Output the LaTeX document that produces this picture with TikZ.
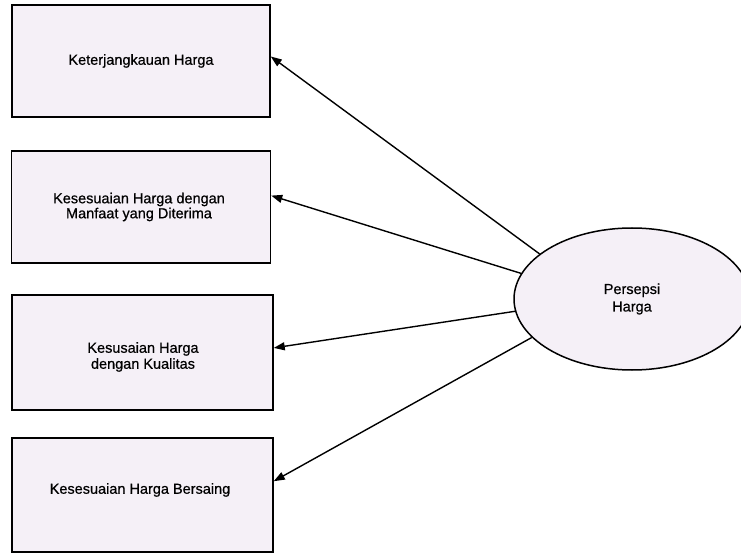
\documentclass[tikz,border=0pt]{standalone}
\usepackage{fontspec}
\setmainfont[FakeBold=0.6]{Liberation Sans}
\usetikzlibrary{arrows.meta,shapes.geometric}
\definecolor{boxfill}{RGB}{245,240,247}
\tikzset{
  indicator/.style={draw=black, line width=1.5pt, fill=boxfill, inner sep=0pt},
  itext/.style={align=center, font=\fontsize{14.5}{15.5}\selectfont},
  construct/.style={ellipse, draw=black, line width=1.5pt, fill=boxfill, inner sep=0pt,
    minimum width=236pt, minimum height=142pt, align=center,
    font=\fontsize{14.5}{17.5}\selectfont},
  loading/.style={line width=1.4pt, -{Triangle[length=11pt,width=8pt]}}
}
\begin{document}
\begin{tikzpicture}[x=1pt,y=-1pt]
  \useasboundingbox (0,0) rectangle (741,553);
  \clip (0,0) rectangle (741,553);
  \fill[white] (0,0) rectangle (741,553);

  % indicator boxes and their labels
  \node[indicator, minimum width=258pt, minimum height=112pt] (b1) at (141,61) {};
  \node[itext] (t1) at (141,61) {Keterjangkauan Harga};

  \node[indicator, minimum width=259pt, minimum height=112pt] (b2) at (141,207) {};
  \node[itext, font=\fontsize{14.5}{15}\selectfont] (t2) at (139,207) {Kesesuaian Harga dengan\\Manfaat yang Diterima};

  \node[indicator, minimum width=261pt, minimum height=115pt] (b3) at (142.5,352.5) {};
  \node[itext, font=\fontsize{14.5}{16}\selectfont] (t3) at (143,357) {Kesusaian Harga\\dengan Kualitas};

  \node[indicator, minimum width=261pt, minimum height=114pt] (b4) at (142.5,495) {};
  \node[itext] (t4) at (140,490) {Kesesuaian Harga Bersaing};

  % latent construct
  \node[construct] (pc) at (632,299) {Persepsi\\Harga};

  % loadings
  \draw[loading] (pc.154.4) -- (b1.2.7);
  \draw[loading] (pc.167.7) -- (b2.5.8);
  \draw[loading] (pc.186.4) -- (b3.2.2);
  \draw[loading] (pc.201.3) -- (b4.6.6);
\end{tikzpicture}
\end{document}
